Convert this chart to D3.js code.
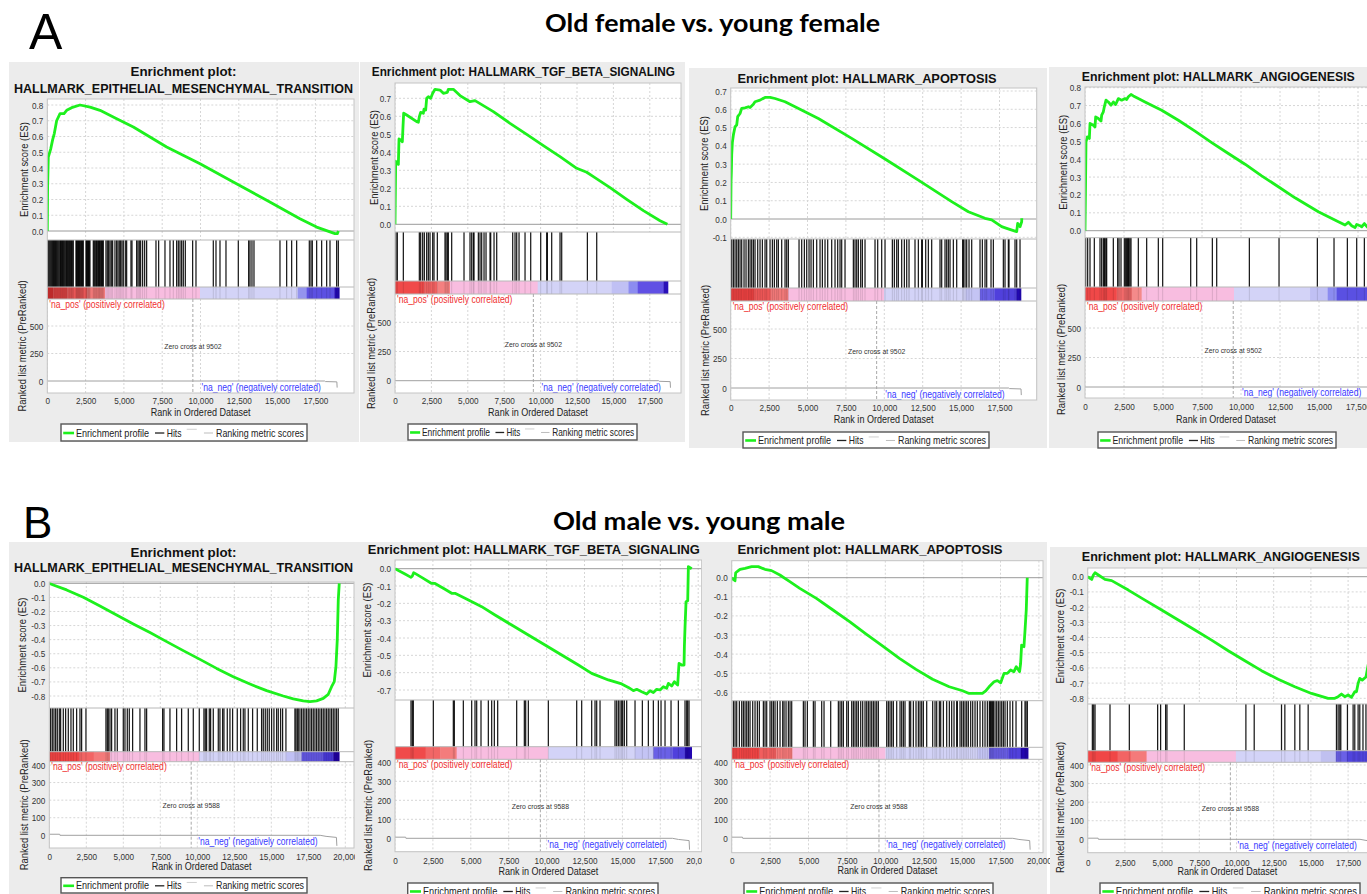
<!DOCTYPE html>
<html lang="en">
<head>
<meta charset="UTF-8">
<title>GSEA enrichment plots</title>
<script src="https://cdn.jsdelivr.net/npm/d3@7"></script>
<style>
  body { margin: 0; background: #fff; }
  svg { display: block; font-family: "Liberation Sans", Arial, sans-serif; }
</style>
</head>
<body>
<svg id="fig" width="1367" height="894"></svg>
<script>
// ---------- data ----------
var rowTitles = ["Old female vs. young female", "Old male vs. young male"];
var legendLabels = ["Enrichment profile", "Hits", "Ranking metric scores"];

var rankTicksA = [0, 2500, 5000, 7500, 10000, 12500, 15000, 17500];
var rankTicksB = [0, 2500, 5000, 7500, 10000, 12500, 15000, 17500, 20000];
var metricTicksA = [0, 250, 500];
var metricTicksB = [0, 100, 200, 300, 400];
var zeroCrossA = 9502;
var zeroCrossB = 9588;

var esTicks08 = [0, 0.1, 0.2, 0.3, 0.4, 0.5, 0.6, 0.7, 0.8];
var esTicks07 = [0, 0.1, 0.2, 0.3, 0.4, 0.5, 0.6, 0.7];
var esTicksA3 = [-0.1, 0, 0.1, 0.2, 0.3, 0.4, 0.5, 0.6, 0.7];
var esTicksN8 = [0, -0.1, -0.2, -0.3, -0.4, -0.5, -0.6, -0.7, -0.8];
var esTicksN7 = [0, -0.1, -0.2, -0.3, -0.4, -0.5, -0.6, -0.7];
var esTicksN6 = [0, -0.1, -0.2, -0.3, -0.4, -0.5, -0.6];

// ranked list metric (rank, value)
var metricA = [[0, 0], [18100, 0], [18150, -5], [18900, -8], [18920, -60]];
var metricB = [[0, 6], [700, 6], [720, 0], [18300, 0], [18700, -6], [19400, -12], [19430, -60]];

// running enrichment scores (rank, ES)
var esA1 = [[0,0],[20,0.28],[65,0.47],[220,0.52],[350,0.58],[460,0.62],[610,0.70],[830,0.745],[1090,0.745],[1265,0.766],[1590,0.783],[2135,0.80],[2790,0.787],[3440,0.766],[4530,0.713],[5617,0.66],[7790,0.533],[9970,0.427],[12140,0.311],[14320,0.195],[16490,0.078],[17580,0.025],[18780,-0.017],[18930,-0.017],[19000,0]];
var esA2 = [[0,0],[46,0.35],[115,0.34],[230,0.333],[275,0.474],[390,0.469],[504,0.459],[550,0.543],[595,0.617],[800,0.607],[1490,0.57],[1603,0.567],[1672,0.598],[1763,0.622],[1946,0.617],[1992,0.64],[2107,0.635],[2175,0.70],[2290,0.709],[2450,0.70],[2588,0.728],[2748,0.75],[3091,0.746],[3320,0.728],[3595,0.733],[3664,0.75],[4007,0.75],[4466,0.715],[5152,0.681],[5496,0.687],[6755,0.626],[7900,0.561],[9045,0.5],[10190,0.437],[11335,0.376],[12480,0.311],[13167,0.289],[13625,0.265],[14770,0.204],[15915,0.139],[17060,0.076],[18205,0.02],[18709,0]];
var esA3 = [[0,0],[22,0.204],[43,0.259],[65,0.35],[109,0.42],[174,0.459],[282,0.505],[390,0.514],[456,0.56],[608,0.577],[716,0.605],[933,0.608],[1150,0.614],[1259,0.61],[1476,0.627],[1584,0.641],[1910,0.65],[2235,0.665],[2561,0.665],[2886,0.659],[3537,0.641],[4188,0.614],[5707,0.55],[7877,0.441],[10047,0.328],[12217,0.213],[14387,0.095],[15472,0.04],[16557,0.004],[16991,-0.005],[17642,-0.042],[17968,-0.051],[18510,-0.066],[18619,-0.069],[18684,-0.024],[18836,-0.042],[18944,-0.015],[18950,0.004]];
var esA4 = [[0,0],[43,0.33],[64,0.497],[150,0.525],[278,0.516],[321,0.6],[534,0.59],[641,0.58],[684,0.637],[855,0.628],[1026,0.613],[1069,0.646],[1175,0.665],[1239,0.693],[1346,0.73],[1496,0.72],[1667,0.702],[1816,0.72],[1966,0.706],[2137,0.739],[2351,0.73],[2564,0.739],[2671,0.734],[2778,0.749],[2949,0.762],[3099,0.754],[3419,0.739],[3847,0.72],[4915,0.674],[5984,0.618],[7052,0.557],[8121,0.493],[9189,0.432],[10258,0.372],[11326,0.307],[12395,0.246],[13463,0.184],[14532,0.128],[14959,0.106],[15600,0.078],[16241,0.05],[16669,0.032],[16882,0.047],[17096,0.028],[17310,0.017],[17416,0.035],[17630,0.028],[17737,0.022],[17908,0.04],[18100,0.02],[18500,0.01],[19000,0]];
var esB1 = [[0,0],[270,-0.012],[1171,-0.047],[2297,-0.099],[3423,-0.161],[4549,-0.225],[5675,-0.289],[6801,-0.35],[7927,-0.414],[9053,-0.478],[10179,-0.54],[11305,-0.604],[12431,-0.663],[13556,-0.715],[14682,-0.762],[15808,-0.8],[16485,-0.821],[17160,-0.835],[17611,-0.84],[18061,-0.835],[18511,-0.817],[18849,-0.788],[19074,-0.734],[19254,-0.698],[19367,-0.592],[19457,-0.402],[19525,-0.118],[19592,0]];
var esB2 = [[0,0],[660,-0.031],[1055,-0.05],[1143,-0.042],[1231,-0.023],[1319,-0.027],[1759,-0.05],[2419,-0.085],[2639,-0.085],[3298,-0.119],[3738,-0.142],[3958,-0.142],[4618,-0.171],[5497,-0.21],[5717,-0.219],[6597,-0.267],[7697,-0.325],[8796,-0.383],[9896,-0.44],[10995,-0.498],[12095,-0.556],[12974,-0.604],[14074,-0.642],[14953,-0.665],[15393,-0.685],[15723,-0.704],[15943,-0.696],[16273,-0.71],[16603,-0.723],[16823,-0.704],[17043,-0.715],[17263,-0.696],[17483,-0.7],[17703,-0.681],[17922,-0.69],[18032,-0.662],[18252,-0.677],[18428,-0.652],[18648,-0.671],[18692,-0.604],[18736,-0.546],[18912,-0.556],[19066,-0.556],[19088,-0.45],[19132,-0.335],[19198,-0.19],[19308,-0.185],[19352,0.012],[19572,0]];
var esB3 = [[0,0],[108,-0.009],[216,-0.016],[259,0.026],[432,0.037],[541,0.044],[865,0.049],[1297,0.058],[1730,0.058],[2162,0.044],[2594,0.037],[3135,0.014],[3784,-0.021],[4432,-0.056],[5513,-0.108],[6594,-0.169],[7675,-0.23],[8756,-0.295],[9837,-0.358],[10918,-0.422],[11999,-0.48],[13080,-0.532],[14161,-0.571],[15026,-0.592],[15458,-0.606],[15890,-0.606],[16323,-0.606],[16539,-0.593],[16756,-0.571],[17080,-0.545],[17296,-0.539],[17513,-0.55],[17729,-0.501],[17945,-0.501],[18161,-0.483],[18377,-0.492],[18528,-0.466],[18744,-0.492],[18809,-0.449],[18874,-0.353],[19026,-0.361],[19091,-0.283],[19177,-0.169],[19242,0]];
var esB4 = [[0,0],[157,-0.011],[269,-0.018],[380,0.011],[492,0.026],[716,0.011],[1164,-0.018],[1611,-0.026],[2730,-0.088],[3849,-0.154],[4968,-0.219],[6087,-0.285],[7206,-0.351],[8325,-0.417],[9444,-0.487],[10563,-0.553],[11682,-0.618],[12801,-0.675],[13920,-0.724],[15039,-0.768],[16158,-0.8],[16606,-0.8],[16830,-0.789],[17054,-0.772],[17278,-0.789],[17502,-0.778],[17725,-0.794],[17949,-0.757],[18061,-0.757],[18173,-0.702],[18285,-0.669],[18450,-0.68],[18700,-0.66],[19000,-0.5],[19400,0]];

// gene set hit positions (rank)
var hitsA1 = [0,50,110,170,230,290,350,410,470,530,590,650,710,770,830,870,935,990,1045,1100,1153,1210,1262,1320,1393,1450,1523,1580,1632,1697,1871,1915,1958,2000,2045,2090,2132,2180,2241,2290,2350,2524,2570,2611,2655,2698,2740,2785,3003,3060,3112,3170,3220,3290,3351,3395,3438,3490,3547,3600,3656,3830,3917,4004,4091,4178,4265,4417,4526,4613,4700,4787,4874,4961,5092,5179,5462,5527,5832,5919,6006,6093,6223,6354,6484,7094,7268,7681,8008,8225,8443,8552,8660,8769,8878,9009,9487,9705,10836,11011,11272,11663,12468,13143,13230,13360,13491,15188,15624,15950,16276,17103,17212,17299,17582,17908,18235,18452,18887,18996];
var hitsA2 = [69,160,573,1672,1763,1900,2015,2175,2290,2405,2588,2679,2908,3435,3504,3595,3664,3893,4740,5152,5267,5381,5427,5725,5840,5954,6115,6252,6527,6573,6802,6985,8084,8244,8358,8519,8931,9320,10007,10419,10465,10762,11335,11449,13213,13854];
var hitsA3 = [65,174,282,391,499,608,716,868,998,1150,1259,1367,1476,1584,1758,1910,2062,2235,2344,2561,2713,2843,2995,3103,3320,3537,3646,3754,4449,4622,4796,4948,5100,5230,5382,5599,5816,5968,6141,6315,6575,6792,6966,7118,7226,7443,7986,8094,8203,8311,8463,8572,8745,9396,9570,9830,10047,10525,10655,10807,10915,11132,11306,11458,11610,11999,12217,12434,12478,12695,12868,13085,13628,13736,13953,14062,14170,14279,14496,14713,15103,15147,15255,15364,15516,15690,16232,16384,16557,16666,16948,17100,17751,17859,18076,18120,18510,18619,18836];
var hitsA4 = [43,171,321,598,962,1068,1175,1239,1282,1346,1389,1816,2094,2180,2308,2522,2607,2671,2735,2778,2821,2885,2949,3419,3953,4701,4979,6775,7159,8164,8442,10536,12438,14895,15963,16818,17416,17908,18300,18700];
var hitsB1 = [90,203,315,428,540,676,766,946,1103,1284,1464,1621,1847,2072,2184,2477,3828,3918,3986,4099,4211,4436,4594,5000,5112,5270,5405,5630,6125,6463,6576,7657,7747,8152,8603,8940,9391,9729,10134,10449,10539,10629,10810,10900,11080,11418,11530,11710,11800,12026,12206,12386,12701,12927,13107,13219,13445,13737,14052,14345,14458,14593,14728,14863,15021,15178,15359,15471,15629,15764,15989,16597,16665,16755,16822,16935,17048,17160,17273,17385,17498,17611,17723,17836,17948,18061,18174,18286,18399,18511,18624,18737,18849,18962,19074,19187,19300,19412,19525];
var hitsB2 = [1056,1143,1209,2529,3848,3914,4508,5058,5278,5388,5673,6157,6377,6553,6773,8026,8532,8620,8796,10115,11985,12314,12974,13194,13304,13524,14513,14623,14733,14843,14953,15019,15129,15283,15833,16317,16712,17042,17372,17548,17812,18208,18692,19131,19241,19307,19395];
var hitsB3 = [109,217,326,499,651,760,868,977,1085,1194,1367,1519,1671,1801,2062,2170,2279,2496,2604,2713,2821,2973,3147,3320,3407,3537,3689,3798,3906,4666,4774,4926,5317,5425,5859,6011,6445,6944,7053,7161,7270,7487,7595,7812,7921,8029,8138,8246,8398,8528,8680,8789,8897,9006,9114,9223,9331,9440,9548,10091,10199,10308,10416,10525,10742,10959,11067,11176,11284,11566,11653,11827,12000,12152,12261,12369,12478,12695,13085,13237,13346,13519,13606,13780,13997,14170,14322,14474,14648,14691,14865,14973,15082,15190,15299,15407,15559,15690,15842,15993,16167,16341,16492,16644,16774,16818,16861,16926,16991,17035,17143,17252,17360,17469,17578,17686,17795,17946,18120,18294,18511,18879,19096,19161,19248];
var hitsB4 = [313,403,492,1499,2798,4700,4901,5237,5326,6490,10631,11190,13025,13249,13920,14256,14816,16718,16830,16942,17009,17456,17837,17949,18173,18285,18500,18700,19000];

// colour band of the ranked list: [start rank, colour], last entry closes the band
var bandA1 = [[0,"#d83232"],[400,"#e24444"],[1300,"#e85656"],[2600,"#f07878"],[3765,"#f8bde0"],[9966,"#d3d3f7"],[16342,"#9494ee"],[16930,"#5c50e2"],[18735,"#2208b0"],[19060,null]];
var bandA2 = [[0,"#f04a4a"],[2000,"#f06060"],[2900,"#f48080"],[3778,"#f8bde0"],[9800,"#d3d3f7"],[14885,"#c0c0f4"],[16030,"#8c8cf0"],[16671,"#6050e4"],[18434,"#2a10b8"],[18750,null]];
var bandA3 = [[0,"#e84040"],[1500,"#ec5656"],[2600,"#f07878"],[3754,"#f8bde0"],[9982,"#d3d3f7"],[15300,"#c4c4f4"],[16232,"#6a60e6"],[17200,"#5040dc"],[18619,"#2208b0"],[18900,null]];
var bandA4 = [[0,"#f04848"],[2030,"#f26a6a"],[3000,"#f48a8a"],[3633,"#f8bde0"],[9552,"#d3d3f7"],[14425,"#c0c0f4"],[15557,"#8c8cf0"],[16134,"#5a50e2"],[18700,"#2a10b8"],[19000,null]];
var bandB1 = [[0,"#f04444"],[2000,"#f26464"],[3000,"#f47a7a"],[4099,"#f8bde0"],[10134,"#d3d3f7"],[16000,"#c0c0f4"],[17048,"#6458e4"],[18500,"#4838d8"],[19187,"#2000a0"],[19592,null]];
var bandB2 = [[0,"#f04a4a"],[2023,"#f26666"],[3000,"#f47c7c"],[4068,"#f8bde0"],[10115,"#d3d3f7"],[15833,"#c4c4f4"],[17042,"#6a60e6"],[18300,"#5040dc"],[19131,"#2206b0"],[19572,null]];
var bandB3 = [[0,"#f04444"],[1800,"#f25e5e"],[2900,"#f47878"],[3956,"#f8bde0"],[10010,"#d3d3f7"],[16000,"#c4c4f4"],[16756,"#6a5ee6"],[18000,"#5040dc"],[18809,"#2206b0"],[19300,null]];
var bandB4 = [[0,"#f04646"],[2014,"#f26464"],[2900,"#f47a7a"],[3961,"#f8bde0"],[9959,"#d3d3f7"],[15666,"#c0c0f0"],[16673,"#6a60e6"],[17400,"#5044dc"],[19000,"#2a10b8"],[19500,null]];

// ---------- panel layout (pixels) ----------
var panels = [
  {title: [["Enrichment plot:", 183.5, 76, 106], ["HALLMARK_EPITHELIAL_MESENCHYMAL_TRANSITION", 183.5, 93, 339]],
   bg: [9, 62, 359, 442], x0: 47.3, step: 38.3, left: 47.3, right: 354,
   esTop: 99, esBot: 240, esDom: [0, 0.8], esRng: [231, 105], hitBot: 287, bandBot: 299, metBot: 393,
   metDom: [0, 500], metRng: [381, 326], tickBase: 404, axisBase: 416, legend: [61, 424, 307, 441], yLab: [24, 22],
   es: esA1, hits: hitsA1, band: bandA1, esTicks: esTicks08, rankTicks: rankTicksA, metTicks: metricTicksA, metric: metricA, zc: zeroCrossA},
  {title: [["Enrichment plot: HALLMARK_TGF_BETA_SIGNALING", 523.3, 76, 303]],
   bg: [360, 62, 685, 442], x0: 395, step: 36.4, left: 395, right: 681,
   esTop: 83, esBot: 232, esDom: [0, 0.7], esRng: [224.3, 98.3], hitBot: 281, bandBot: 294, metBot: 393,
   metDom: [0, 500], metRng: [380.7, 322.3], tickBase: 404, axisBase: 416.5, legend: [408, 424, 637, 440], yLab: [374, 371.7],
   es: esA2, hits: hitsA2, band: bandA2, esTicks: esTicks07, rankTicks: rankTicksA, metTicks: metricTicksA, metric: metricA, zc: zeroCrossA},
  {title: [["Enrichment plot: HALLMARK_APOPTOSIS", 867, 83.3, 259]],
   bg: [689, 68, 1047, 448], x0: 730.7, step: 38.4, left: 730.7, right: 1036.7,
   esTop: 88, esBot: 239, esDom: [-0.1, 0.7], esRng: [237.3, 91], hitBot: 288, bandBot: 301, metBot: 400,
   metDom: [0, 500], metRng: [388, 329], tickBase: 411, axisBase: 423.5, legend: [743, 432, 989, 448], yLab: [704, 705.7],
   es: esA3, hits: hitsA3, band: bandA3, esTicks: esTicksA3, rankTicks: rankTicksA, metTicks: metricTicksA, metric: metricA, zc: zeroCrossA},
  {title: [["Enrichment plot: HALLMARK_ANGIOGENESIS", 1218.3, 80.7, 273]],
   bg: [1049, 67, 1367, 448], x0: 1085, step: 39.0, left: 1085, right: 1400,
   esTop: 87, esBot: 237.7, esDom: [0, 0.8], esRng: [230.7, 87.7], hitBot: 287, bandBot: 301, metBot: 398,
   metDom: [0, 500], metRng: [387, 328], tickBase: 410, axisBase: 423.5, legend: [1098, 432, 1336, 448], yLab: [1063, 1061],
   es: esA4, hits: hitsA4, band: bandA4, esTicks: esTicks08, rankTicks: rankTicksA, metTicks: metricTicksA, metric: metricA, zc: zeroCrossA},
  {title: [["Enrichment plot:", 183.5, 556.7, 106], ["HALLMARK_EPITHELIAL_MESENCHYMAL_TRANSITION", 183.5, 571.7, 339]],
   bg: [9, 542, 355, 894], x0: 49.3, step: 37, left: 49.3, right: 354,
   esTop: 582, esBot: 708, esDom: [-0.8, 0], esRng: [696, 583.3], hitBot: 751.7, bandBot: 761.7, metBot: 848,
   metDom: [0, 400], metRng: [835.3, 765], tickBase: 859.5, axisBase: 870.5, legend: [61, 877.7, 307, 893], yLab: [22.7, 24],
   es: esB1, hits: hitsB1, band: bandB1, esTicks: esTicksN8, rankTicks: rankTicksB, metTicks: metricTicksB, metric: metricB, zc: zeroCrossB},
  {title: [["Enrichment plot: HALLMARK_TGF_BETA_SIGNALING", 533.8, 554, 332]],
   bg: [355, 542, 702, 894], x0: 395, step: 37.9, left: 395, right: 701.7,
   esTop: 560, esBot: 700, esDom: [-0.7, 0], esRng: [690, 568.7], hitBot: 746.7, bandBot: 759.3, metBot: 851.7,
   metDom: [0, 400], metRng: [838.3, 762.3], tickBase: 863.5, axisBase: 875, legend: [407.7, 883, 658, 899], yLab: [367.7, 368.3],
   es: esB2, hits: hitsB2, band: bandB2, esTicks: esTicksN7, rankTicks: rankTicksB, metTicks: metricTicksB, metric: metricB, zc: zeroCrossB},
  {title: [["Enrichment plot: HALLMARK_APOPTOSIS", 870, 554.3, 265]],
   bg: [702, 542, 1047, 894], x0: 731.7, step: 38.4, left: 731.7, right: 1043,
   esTop: 560.7, esBot: 700.7, esDom: [-0.6, 0], esRng: [692.3, 577.7], hitBot: 747.3, bandBot: 759.3, metBot: 852.7,
   metDom: [0, 400], metRng: [838.3, 762.3], tickBase: 863.5, axisBase: 874.5, legend: [744, 883, 993, 899], yLab: null,
   es: esB3, hits: hitsB3, band: bandB3, esTicks: esTicksN6, rankTicks: rankTicksB, metTicks: metricTicksB, metric: metricB, zc: zeroCrossB},
  {title: [["Enrichment plot: HALLMARK_ANGIOGENESIS", 1220.8, 560.7, 278]],
   bg: [1050, 547, 1367, 894], x0: 1087.7, step: 37.2, left: 1087.7, right: 1400,
   esTop: 568, esBot: 704, esDom: [-0.8, 0], esRng: [698.3, 576.7], hitBot: 750.7, bandBot: 762.3, metBot: 852.7,
   metDom: [0, 400], metRng: [839.3, 765], tickBase: 865.5, axisBase: 875, legend: [1100, 883, 1360, 899], yLab: [1060, 1060],
   es: esB4, hits: hitsB4, band: bandB4, esTicks: esTicksN8, rankTicks: rankTicksB, metTicks: metricTicksB, metric: metricB, zc: zeroCrossB}
];

var svg = d3.select("#fig");
var sx = 0.86;          // the GSEA fonts are narrower than Liberation Sans
var gridCol = "#d6d6d6";

function drawLegend(g, L) {
  var w = L[2] - L[0], h = L[3] - L[1], cy = L[1] + h * 0.53;
  g.append("rect").attr("x", L[0]).attr("y", L[1]).attr("width", w).attr("height", h)
    .attr("fill", "#fff").attr("stroke", "#555").attr("stroke-width", 1.4);
  var keys = [[0.009, 0.053, "#1df01d", 2.6, 0], [0.382, 0.42, "#222", 1.3, 0],
              [0.511, 0.552, "#d0d0d0", 1, -h * 0.22], [0.581, 0.618, "#bdbdbd", 1, 0]];
  g.selectAll(".lk").data(keys).join("line")
    .attr("x1", d => L[0] + d[0] * w).attr("x2", d => L[0] + d[1] * w)
    .attr("y1", d => cy + d[4]).attr("y2", d => cy + d[4])
    .attr("stroke", d => d[2]).attr("stroke-width", d => d[3]);
  var spans = [[0.061, 0.358], [0.43, 0.49], [0.63, 0.988]];
  g.selectAll(".lt").data(legendLabels).join("text")
    .attr("x", (d, i) => L[0] + spans[i][0] * w).attr("y", cy + 3.6)
    .attr("font-size", 10.5).attr("fill", "#222")
    .attr("textLength", (d, i) => (spans[i][1] - spans[i][0]) * w)
    .attr("lengthAdjust", "spacingAndGlyphs").text(d => d);
}

function drawPanel(p, idx) {
  var g = svg.append("g");
  var x = d3.scaleLinear().domain([0, 2500]).range([p.x0, p.x0 + p.step]);
  var yES = d3.scaleLinear().domain(p.esDom).range(p.esRng);
  var yM = d3.scaleLinear().domain(p.metDom).range(p.metRng);
  var W = p.right - p.left;

  g.append("rect").attr("x", p.bg[0]).attr("y", p.bg[1])
    .attr("width", p.bg[2] - p.bg[0]).attr("height", p.bg[3] - p.bg[1]).attr("fill", "#ececec");

  g.selectAll(".ti").data(p.title).join("text")
    .attr("x", d => d[1]).attr("y", d => d[2]).attr("text-anchor", "middle")
    .attr("font-weight", "bold").attr("font-size", 13).attr("fill", "#111")
    .attr("textLength", d => d[3]).attr("lengthAdjust", "spacingAndGlyphs").text(d => d[0]);

  g.append("clipPath").attr("id", "clip" + idx).append("rect")
    .attr("x", p.left).attr("y", p.esTop).attr("width", W).attr("height", p.metBot - p.esTop);
  var pg = g.append("g").attr("clip-path", "url(#clip" + idx + ")");

  pg.append("rect").attr("x", p.left).attr("y", p.esTop).attr("width", W)
    .attr("height", p.metBot - p.esTop).attr("fill", "#fff");

  var ticks = p.rankTicks.filter(t => x(t) <= p.right + 0.5);
  var vSegs = [];
  ticks.forEach(t => { vSegs.push([t, p.esTop, p.esBot]); vSegs.push([t, p.bandBot, p.metBot]); });
  pg.selectAll(".vg").data(vSegs).join("line")
    .attr("x1", d => x(d[0])).attr("x2", d => x(d[0])).attr("y1", d => d[1]).attr("y2", d => d[2])
    .attr("stroke", gridCol).attr("stroke-dasharray", "2,2");
  pg.selectAll(".hg").data(p.esTicks.filter(v => v !== 0)).join("line")
    .attr("x1", p.left).attr("x2", p.right).attr("y1", d => yES(d)).attr("y2", d => yES(d))
    .attr("stroke", gridCol).attr("stroke-dasharray", "2,2");
  pg.selectAll(".mg").data(p.metTicks.filter(v => v !== 0)).join("line")
    .attr("x1", p.left).attr("x2", p.right).attr("y1", d => yM(d)).attr("y2", d => yM(d))
    .attr("stroke", gridCol).attr("stroke-dasharray", "2,2");

  // ES zero line
  pg.append("line").attr("x1", p.left).attr("x2", p.right).attr("y1", yES(0)).attr("y2", yES(0))
    .attr("stroke", "#9a9a9a").attr("stroke-width", 1);

  // colour band
  var segs = p.band.slice(0, -1).map((d, i) => [d[0], p.band[i + 1][0], d[1]]);
  pg.selectAll(".bd").data(segs).join("rect")
    .attr("x", d => x(d[0])).attr("width", d => x(d[1]) - x(d[0]) + 0.3)
    .attr("y", p.hitBot).attr("height", p.bandBot - p.hitBot).attr("fill", d => d[2]);

  // hits
  pg.selectAll(".hit").data(p.hits).join("line")
    .attr("x1", d => x(d)).attr("x2", d => x(d)).attr("y1", p.esBot).attr("y2", p.hitBot)
    .attr("stroke", "#000").attr("stroke-width", 1.25).attr("stroke-opacity", 0.9);
  pg.selectAll(".hitb").data(p.hits).join("line")
    .attr("x1", d => x(d)).attr("x2", d => x(d)).attr("y1", p.hitBot).attr("y2", p.bandBot)
    .attr("stroke", "#000").attr("stroke-width", 1).attr("stroke-opacity", 0.12);

  // separators
  [p.esBot, p.hitBot, p.bandBot].forEach(yy => {
    pg.append("line").attr("x1", p.left).attr("x2", p.right).attr("y1", yy).attr("y2", yy)
      .attr("stroke", "#b8b8b8");
  });

  // zero cross
  pg.append("line").attr("x1", x(p.zc)).attr("x2", x(p.zc)).attr("y1", p.bandBot).attr("y2", p.metBot)
    .attr("stroke", "#a8a8a8").attr("stroke-dasharray", "3,2");

  // ranked list metric
  pg.append("path").datum(p.metric)
    .attr("d", d3.line().x(d => x(d[0])).y(d => yM(d[1])))
    .attr("fill", "none").attr("stroke", "#a0a0a0").attr("stroke-width", 1);

  // running ES
  pg.append("path").datum(p.es)
    .attr("d", d3.line().x(d => x(d[0])).y(d => yES(d[1])))
    .attr("fill", "none").attr("stroke", "#1df01d").attr("stroke-width", 2.8)
    .attr("stroke-linejoin", "round");

  // labels inside the metric panel
  pg.append("text").attr("transform", "translate(" + (p.left + 2) + "," + (p.bandBot + 8.5) + ") scale(" + sx + ",1)")
    .attr("font-size", 10).attr("fill", "#f03030").text("'na_pos' (positively correlated)");
  pg.append("text").attr("transform", "translate(" + (x(10000) + 1) + "," + Math.min(yM(0) + 10, p.metBot - 2) + ") scale(" + sx + ",1)")
    .attr("font-size", 10).attr("fill", "#3a3aff").text("'na_neg' (negatively correlated)");
  pg.append("text").attr("transform", "translate(" + x(p.zc) + "," + ((p.bandBot + p.metBot) / 2 + 3) + ") scale(" + sx + ",1)")
    .attr("text-anchor", "middle").attr("font-size", 8).attr("fill", "#333").text("Zero cross at " + p.zc);

  // border
  g.append("rect").attr("x", p.left).attr("y", p.esTop).attr("width", W).attr("height", p.metBot - p.esTop)
    .attr("fill", "none").attr("stroke", "#c4c4c4");

  // axes
  var ax = g.append("g").attr("transform", "translate(0," + p.tickBase + ")")
    .call(d3.axisBottom(x).tickValues(ticks).tickSize(0).tickFormat(d3.format(",")));
  ax.select(".domain").remove();
  ax.attr("font-family", null);
  ax.selectAll("text").attr("y", 0).attr("dy", 0).attr("font-size", 9.5).attr("fill", "#333")
    .attr("transform", "scale(" + sx + ",1)");

  var ay = g.append("g").attr("transform", "translate(" + (p.left - 4) + ",0)")
    .call(d3.axisLeft(yES).tickValues(p.esTicks).tickSize(0).tickPadding(0).tickFormat(v => v.toFixed(1)));
  ay.select(".domain").remove();
  ay.attr("font-family", null);
  ay.selectAll("text").attr("font-size", 9.5).attr("fill", "#333").attr("transform", "scale(" + sx + ",1)");

  var am = g.append("g").attr("transform", "translate(" + (p.left - 4) + ",0)")
    .call(d3.axisLeft(yM).tickValues(p.metTicks).tickSize(0).tickPadding(0).tickFormat(d3.format("d")));
  am.select(".domain").remove();
  am.attr("font-family", null);
  am.selectAll("text").attr("font-size", 9.5).attr("fill", "#333").attr("transform", "scale(" + sx + ",1)");

  g.append("text").attr("x", (p.left + Math.min(p.right, 1367)) / 2).attr("y", p.axisBase)
    .attr("text-anchor", "middle").attr("font-size", 10.5).attr("fill", "#222")
    .attr("transform", "translate(" + ((1 - sx) * (p.left + Math.min(p.right, 1367)) / 2) + ",0) scale(" + sx + ",1)")
    .text("Rank in Ordered Dataset");

  if (p.yLab) {
    g.append("text").attr("transform", "translate(" + p.yLab[0] + "," + ((p.esTop + p.esBot) / 2) + ") rotate(-90) scale(0.9,1)")
      .attr("text-anchor", "middle").attr("dy", "0.35em").attr("font-size", 10.5).attr("fill", "#222")
      .text("Enrichment score (ES)");
    g.append("text").attr("transform", "translate(" + p.yLab[1] + "," + ((p.bandBot + p.metBot) / 2) + ") rotate(-90) scale(0.9,1)")
      .attr("text-anchor", "middle").attr("dy", "0.35em").attr("font-size", 10.5).attr("fill", "#222")
      .text("Ranked list metric (PreRanked)");
  }

  drawLegend(g, p.legend);
}

panels.forEach(drawPanel);

// row headers
svg.append("text").attr("x", 29).attr("y", 49).attr("font-size", 50).attr("fill", "#000").text("A");
svg.append("text").attr("x", 23).attr("y", 538).attr("font-size", 44).attr("fill", "#000").text("B");
svg.append("text").attr("x", 712.5).attr("y", 32).attr("text-anchor", "middle")
  .attr("font-family", "Lato, 'Open Sans', sans-serif").attr("font-weight", 700).attr("font-size", 25)
  .attr("textLength", 335).attr("lengthAdjust", "spacingAndGlyphs").text(rowTitles[0]);
svg.append("text").attr("x", 699).attr("y", 530).attr("text-anchor", "middle")
  .attr("font-family", "Lato, 'Open Sans', sans-serif").attr("font-weight", 700).attr("font-size", 25)
  .attr("textLength", 292).attr("lengthAdjust", "spacingAndGlyphs").text(rowTitles[1]);
</script>
</body>
</html>
